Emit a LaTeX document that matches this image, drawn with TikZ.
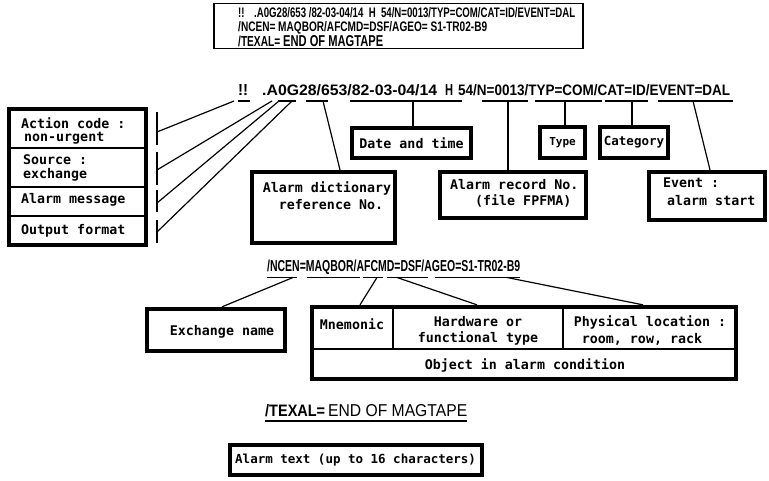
\documentclass[tikz,border=0pt]{standalone}
\usepackage{fontspec}
\usepackage{graphicx}
\setsansfont{Liberation Sans}
\newfontfamily\monofnt{DejaVu Sans Mono}
\newcommand\hdr[3]{\resizebox{#1pt}{#2pt}{\sffamily\bfseries #3}}
\newcommand\hdrn[3]{\resizebox{#1pt}{#2pt}{\sffamily #3}}
\begin{document}
\begin{tikzpicture}[x=1pt,y=-1pt,
  tbox/.style={draw, line width=4.3pt, inner sep=0pt, font=\monofnt\bfseries\fontsize{13.3}{16}\selectfont},
  lbl/.style={inner sep=0pt, anchor=west, font=\monofnt\bfseries\fontsize{13.3}{16}\selectfont},
  clbl/.style={inner sep=0pt, font=\monofnt\bfseries\fontsize{13.3}{16}\selectfont},
  hd/.style={inner sep=0pt, anchor=base west},
  ul/.style={line width=1.2pt},
  cn/.style={line width=1.2pt},
  divl/.style={line width=1.1pt},
  bar/.style={line width=1.5pt}]
\useasboundingbox (0,0) rectangle (769,481);

% ---------- top printout box ----------
\node[draw, line width=1.6pt, minimum width=369pt, minimum height=45pt, inner sep=0pt] (top) at (398.5,26) {};
\node[hd] (t1) at (238,18) {\hdr{337}{10}{!!\quad .A0G28/653 /82-03-04/14\ \ H\ \ 54/N=0013/TYP=COM/CAT=ID/EVENT=DAL}};
\node[hd] (t2) at (238,32) {\hdr{249}{10}{/NCEN= MAQBOR/AFCMD=DSF/AGEO= S1-TR02-B9}};
\node[hd] (t3a) at (238,46.5) {\hdr{42}{10.5}{/TEXAL=}};
\node[hd] (t3b) at (283,46.5) {\hdrn{100}{11}{\bfseries END OF MAGTAPE}};

% ---------- header line 1 ----------
\node[hd] (ha) at (238,96) {\hdr{10}{11}{!!}};
\node[hd] (hb) at (262,96) {\hdr{175}{11}{.A0G28/653/82-03-04/14}};
\node[hd] (hc) at (445,96) {\hdr{8}{11}{H}};
\node[hd] (hd) at (458,96) {\hdr{272}{11}{54/N=0013/TYP=COM/CAT=ID/EVENT=DAL}};
\draw[ul] (238,101) -- (250,101);
\draw[ul] (278,101) -- (296,101);
\draw[ul] (306,101) -- (328,101);
\draw[ul] (350,101) -- (462,101);
\draw[ul] (482,101) -- (528,101);
\draw[ul] (535,101) -- (602,101);
\draw[ul] (605,101) -- (648,101);
\draw[ul] (658,101) -- (733,101);

% left legend box
\node[tbox, minimum width=137pt, minimum height=136pt] (legend) at (77.5,177) {};
\draw[divl] (9,148) -- (146,148);
\draw[divl] (9,187) -- (146,187);
\draw[divl] (9,216) -- (146,216);
\node[lbl] (l1) at (21,123) {Action code :};
\node[lbl] (l2) at (24,138) {non-urgent};
\node[lbl] (l3) at (23,160) {Source :};
\node[lbl] (l4) at (23,175) {exchange};
\node[lbl] (l5) at (21,200) {Alarm message};
\node[lbl] (l6) at (21,231) {Output format};
\draw[bar] (157,112) -- (157,145);
\draw[bar] (157,152) -- (157,185);
\draw[bar] (157,190) -- (157,212);
\draw[bar] (157,220) -- (157,243);
\coordinate (b1) at (157,132);
\coordinate (b2) at (157,170);
\coordinate (b3) at (157,203);
\coordinate (b4) at (157,232);
\coordinate (u1) at (234,101);
\coordinate (u2) at (272,101);
\coordinate (u3) at (279,101);
\coordinate (u4) at (292,101);
\draw[cn] (b1) -- (u1);
\draw[cn] (b2) -- (u2);
\draw[cn] (b3) -- (u3);
\draw[cn] (b4) -- (u4);

% boxes of line 1
\node[tbox, minimum width=119pt, minimum height=30pt] (date) at (411.5,143) {Date and time};
\node[tbox, minimum width=45pt, minimum height=31pt, font=\monofnt\bfseries\fontsize{11}{13}\selectfont] (type) at (562.5,142.5) {Type};
\node[tbox, minimum width=68pt, minimum height=31pt, font=\monofnt\bfseries\fontsize{12.5}{15}\selectfont] (cat) at (634,142.5) {Category};
\node[tbox, minimum width=143pt, minimum height=71pt] (dict) at (323.5,207.5) {};
\node[clbl] (dict1) at (327,188) {Alarm dictionary};
\node[clbl] (dict2) at (331,205) {reference No.};
\node[tbox, minimum width=146pt, minimum height=46pt] (rec) at (513,195) {};
\node[lbl] (rec1) at (450,185) {Alarm record No.};
\node[lbl] (rec2) at (475,201) {(file FPFMA)};
\node[tbox, minimum width=116pt, minimum height=48pt] (event) at (707,196) {};
\node[lbl] (ev1) at (663,183) {Event :};
\node[lbl] (ev2) at (667,201) {alarm start};

\coordinate (u5) at (323,101);
\coordinate (u6) at (413,101);
\coordinate (u7) at (508,101);
\coordinate (u8) at (565,101);
\coordinate (u9) at (632,101);
\coordinate (u10) at (693,101);
\draw[cn] (u5) -- ([xshift=16.5pt]dict.north);
\draw[cn] (u6) -- ([xshift=1.5pt]date.north);
\draw[cn] (u7) -- ([xshift=-5pt]rec.north);
\draw[cn] (u8) -- ([xshift=2.5pt]type.north);
\draw[cn] (u9) -- ([xshift=-2pt]cat.north);
\draw[cn] (u10) -- ([xshift=3pt]event.north);

% ---------- header line 2 ----------
\node[hd] (n1) at (267,272) {\hdr{253}{11.5}{/NCEN=MAQBOR/AFCMD=DSF/AGEO=S1-TR02-B9}};
\draw[ul] (267,277.5) -- (297,277.5);
\draw[ul] (307,277.5) -- (360,277.5);
\draw[ul] (363,277.5) -- (383,277.5);
\draw[ul] (387,277.5) -- (428,277.5);
\draw[ul] (435,277.5) -- (520,277.5);

\node[tbox, minimum width=138pt, minimum height=42pt] (exch) at (216,330) {};
\node[clbl] (exch1) at (222,332) {Exchange name};

\node[tbox, minimum width=424pt, minimum height=72pt] (obj) at (524,343) {};
\draw[divl] (312,349) -- (736,349);
\draw[divl] (393,307) -- (393,349);
\draw[divl] (563,307) -- (563,349);
\node[clbl] (o1) at (352,324) {Mnemonic};
\node[clbl] (o2) at (478,322) {Hardware or};
\node[clbl] (o3) at (478,338) {functional type};
\node[clbl] (o4) at (650,322) {Physical location :};
\node[clbl] (o5) at (642,339) {room, row, rack};
\node[clbl] (o6) at (525,365) {Object in alarm condition};

\coordinate (v1) at (293,277.5);
\coordinate (v2) at (377,277.5);
\coordinate (v3) at (397,277.5);
\coordinate (v4) at (507,277.5);
\draw[cn] (v1) -- ([xshift=6pt]exch.north);
\draw[cn] (v2) -- ([xshift=-164pt]obj.north);
\draw[cn] (v3) -- ([xshift=-47pt]obj.north);
\draw[cn] (v4) -- ([xshift=119pt]obj.north);

% ---------- header line 3 ----------
\node[hd] (x1) at (265,416) {\hdr{60}{12}{/TEXAL=}};
\node[hd] (x2) at (328,416) {\hdrn{139}{12}{END OF MAGTAPE}};
\draw[ul] (265,421) -- (467,421);

\node[tbox, minimum width=252pt, minimum height=30pt] (atext) at (356,460) {};
\node[lbl, font=\monofnt\bfseries\fontsize{12.5}{15}\selectfont] (at1) at (235,460) {Alarm text (up to 16 characters)};
\end{tikzpicture}
\end{document}
